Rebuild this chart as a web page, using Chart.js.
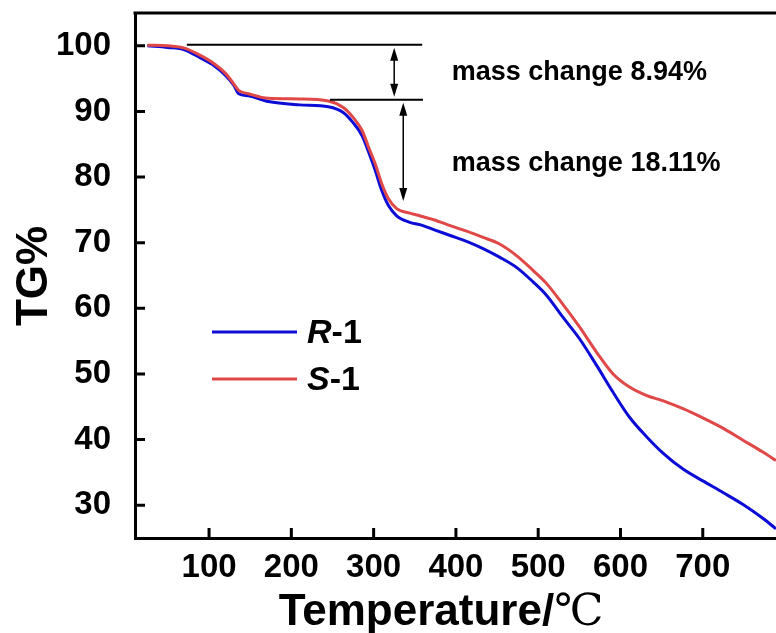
<!DOCTYPE html>
<html>
<head>
<meta charset="utf-8">
<script src="https://cdn.jsdelivr.net/npm/chart.js@4.4.0/dist/chart.umd.min.js"></script>
<style>
  body { margin: 0; background: #fff; }
  #wrap { width: 776px; height: 633px; }
</style>
</head>
<body>
<div id="wrap"><canvas id="chartTG"></canvas></div>
<script>
// temperature (°C) and TG (%)
var temperatures = [25, 50, 70, 90, 107, 120, 130, 136, 148, 172, 210, 245, 263, 275, 286, 294, 302, 310, 318, 328, 344, 356, 373, 393, 413, 433, 453, 474, 494, 510, 530, 550, 571, 591, 611, 632, 652, 676, 700, 725, 749, 773, 789]
var r1Values = [100.0, 99.75, 99.4, 98.1, 96.9, 95.5, 94.0, 92.7, 92.4, 91.5, 91.0, 90.7, 89.85, 88.3, 86.3, 83.8, 81.0, 77.9, 75.65, 74.1, 73.1, 72.75, 72.0, 71.1, 70.2, 69.1, 67.8, 66.2, 64.0, 62.0, 58.65, 55.4, 51.3, 47.2, 43.4, 40.4, 37.9, 35.5, 33.7, 31.9, 30.1, 28.0, 26.4]
var s1Values = [100.1, 100.0, 99.65, 98.5, 97.2, 95.8, 94.2, 93.2, 92.7, 92.0, 91.9, 91.6, 90.6, 89.1, 87.1, 84.5, 82.0, 78.95, 76.7, 75.2, 74.5, 74.1, 73.5, 72.6, 71.75, 70.8, 69.8, 68.0, 65.75, 63.8, 60.6, 57.2, 53.3, 50.0, 48.0, 46.7, 45.9, 44.7, 43.3, 41.7, 39.9, 38.1, 36.8]

var xTicks = [100, 200, 300, 400, 500, 600, 700]
var yTicks = [30, 40, 50, 60, 70, 80, 90, 100]

// mass change marks
var levelY = [100.15, 91.78]
var levelFrom = [73, 247]
var levelTo = [359, 360]
var arrowX = [325, 336]
var arrowTop = [100.15, 91.78]
var arrowBottom = [91.78, 75.9]
var noteText = ['mass change 8.94%', 'mass change 18.11%']
var noteX = [395, 395]
var noteY = [95.9, 82.0]

var FONT = '"Liberation Sans", Arial, sans-serif'
Chart.defaults.font.family = FONT
Chart.defaults.color = '#000'

function arrowHead(ctx, x, y, dir) {
  ctx.beginPath()
  ctx.moveTo(x, y)
  ctx.lineTo(x - 4, y + dir * 13)
  ctx.lineTo(x + 4, y + dir * 13)
  ctx.closePath()
  ctx.fill()
}

var frame = {
  id: 'frame',
  afterDraw: function (chart) {
    var ctx = chart.ctx
    var a = chart.chartArea
    var xs = chart.scales.x
    var ys = chart.scales.y
    ctx.save()
    ctx.strokeStyle = '#000'
    ctx.fillStyle = '#000'

    // top border + inward ticks
    ctx.lineWidth = 3
    ctx.beginPath()
    ctx.moveTo(a.left - 1.5, a.top)
    ctx.lineTo(a.right, a.top)
    xs.ticks.forEach(function (t) {
      var px = xs.getPixelForValue(t.value)
      ctx.moveTo(px, a.bottom)
      ctx.lineTo(px, a.bottom - 10)
    })
    ys.ticks.forEach(function (t) {
      var py = ys.getPixelForValue(t.value)
      ctx.moveTo(a.left, py)
      ctx.lineTo(a.left + 10, py)
    })
    ctx.stroke()

    // level lines
    ctx.lineWidth = 2
    ctx.beginPath()
    levelY.forEach(function (v, i) {
      var py = ys.getPixelForValue(v)
      ctx.moveTo(xs.getPixelForValue(levelFrom[i]), py)
      ctx.lineTo(xs.getPixelForValue(levelTo[i]), py)
    })
    ctx.stroke()

    // double arrows
    ctx.lineWidth = 1.5
    arrowX.forEach(function (t, i) {
      var px = xs.getPixelForValue(t)
      var y1 = ys.getPixelForValue(arrowTop[i]) + 3
      var y2 = ys.getPixelForValue(arrowBottom[i]) - 3
      ctx.beginPath()
      ctx.moveTo(px, y1 + 6)
      ctx.lineTo(px, y2 - 6)
      ctx.stroke()
      arrowHead(ctx, px, y1, 1)
      arrowHead(ctx, px, y2, -1)
    })

    // notes
    ctx.font = 'bold 27px ' + FONT
    ctx.textBaseline = 'middle'
    ctx.textAlign = 'left'
    noteText.forEach(function (s, i) {
      ctx.fillText(s, xs.getPixelForValue(noteX[i]), ys.getPixelForValue(noteY[i]))
    })

    // legend
    chart.data.datasets.forEach(function (ds, i) {
      var ly = a.top + 319 + i * 47
      var lx = a.left + 77
      ctx.strokeStyle = ds.borderColor
      ctx.lineWidth = 3
      ctx.beginPath()
      ctx.moveTo(lx, ly)
      ctx.lineTo(lx + 85, ly)
      ctx.stroke()
      ctx.fillStyle = '#000'
      ctx.font = 'italic bold 34px ' + FONT
      var tx = lx + 95
      ctx.fillText(ds.label.charAt(0), tx, ly + 2)
      tx += ctx.measureText(ds.label.charAt(0)).width
      ctx.font = 'bold 34px ' + FONT
      ctx.fillText(ds.label.slice(1), tx, ly + 2)
    })

    // axis titles
    ctx.textBaseline = 'alphabetic'
    ctx.font = 'bold 44px ' + FONT
    var part1 = 'Temperature/'
    ctx.textAlign = 'left'
    var w1 = ctx.measureText(part1).width
    ctx.font = '44px "DejaVu Serif", "Liberation Serif", serif'
    var w2 = ctx.measureText('℃').width
    var sx = 441 - (w1 + w2) / 2
    ctx.font = 'bold 44px ' + FONT
    ctx.fillText(part1, sx, 625)
    ctx.font = '44px "DejaVu Serif", "Liberation Serif", serif'
    ctx.fillText('℃', sx + w1, 625)

    ctx.translate(47, 276)
    ctx.rotate(-Math.PI / 2)
    ctx.textAlign = 'center'
    ctx.font = 'bold 44px ' + FONT
    ctx.fillText('TG%', 0, 0)
    ctx.restore()
  }
}

var chart = new Chart(document.getElementById('chartTG').getContext('2d'), {
  type: 'line',
  data: {
    datasets: [
      {
        label: 'R-1',
        borderColor: '#0c0cd6',
        data: temperatures.map(function (t, i) { return { x: t, y: r1Values[i] } }),
        order: 1,
      },
      {
        label: 'S-1',
        borderColor: '#e04848',
        data: temperatures.map(function (t, i) { return { x: t, y: s1Values[i] } }),
        order: 0,
      },
    ],
  },
  options: {
    responsive: true,
    maintainAspectRatio: false,
    animation: false,
    layout: { padding: { top: 13, right: 0, left: 0, bottom: 0 } },
    elements: {
      point: { radius: 0 },
      line: { borderWidth: 3, cubicInterpolationMode: 'monotone' },
    },
    plugins: { legend: { display: false }, tooltip: { enabled: false } },
    scales: {
      x: {
        type: 'linear',
        min: 10,
        max: 789,
        grid: { display: false },
        border: { color: '#000', width: 3 },
        ticks: { padding: 2, font: { size: 33, weight: 'bold' } },
        afterBuildTicks: function (s) { s.ticks = xTicks.map(function (v) { return { value: v } }) },
        afterFit: function (s) { s.height = 95; s.paddingLeft = 0; s.paddingRight = 0 },
      },
      y: {
        min: 25,
        max: 105,
        grid: { display: false },
        border: { color: '#000', width: 3 },
        ticks: { padding: 16, font: { size: 33, weight: 'bold' } },
        afterBuildTicks: function (s) { s.ticks = yTicks.map(function (v) { return { value: v } }) },
        afterFit: function (s) { s.width = 135; s.paddingTop = 0; s.paddingBottom = 0 },
      },
    },
  },
  plugins: [frame],
})
</script>
</body>
</html>
